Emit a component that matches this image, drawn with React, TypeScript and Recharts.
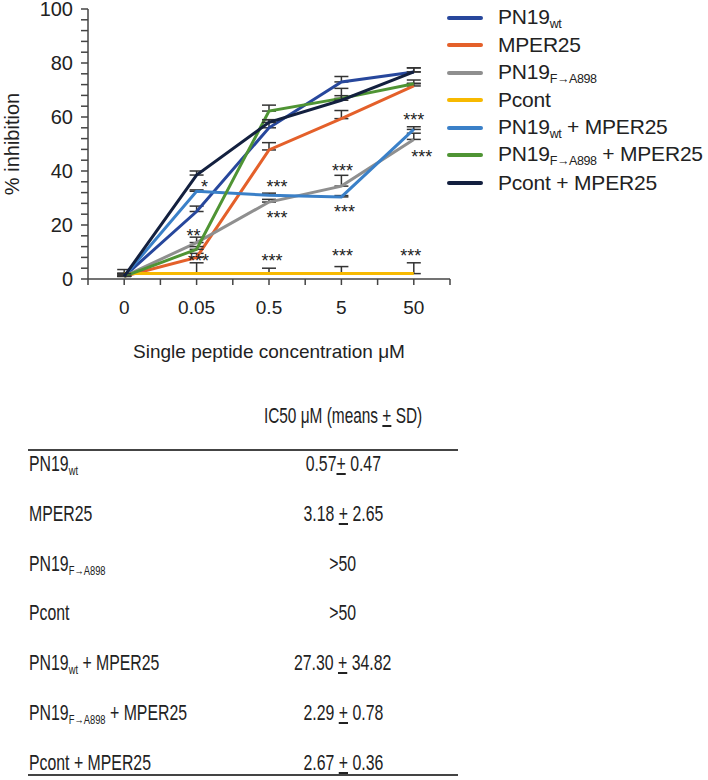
import React from 'react'
import { LineChart, Line, XAxis, YAxis, ErrorBar, LabelList } from 'recharts'

// x categories (single peptide concentration, µM)
const xLabels = ['0', '0.05', '0.5', '5', '50']

// % inhibition per series
const pn19wt = [1, 25, 56, 73, 76.7]
const mper25 = [1, 8, 47.8, 59.4, 71.5]
const pn19fa = [1, 13.5, 28.5, 34.4, 51.7]
const pcont = [2, 2, 2, 2, 2]
const pn19wtMper = [1, 32.5, 31, 30.4, 55.4]
const pn19faMper = [1, 11, 62.2, 66.9, 72.3]
const pcontMper = [1, 38.5, 58, 66.2, 76.7]

// upper SD
const pn19wtErr = [1, 2, 3, 2, 1.5]
const mper25Err = [1, 1.5, 2.7, 3, 1]
const pn19faErr = [1, 2, 1, 4, 2.3]
const pcontErr = [1.5, 4, 2, 2.6, 4]
const pn19wtMperErr = [1, 0.5, 0.8, 0.5, 1]
const pn19faMperErr = [1, 1, 2.2, 1, 1.4]
const pcontMperErr = [1, 1.5, 1, 4.4, 1.5]

// significance marks
const pn19faSig = ['', '**', '***', '***', '***']
const pcontSig = ['', '***', '***', '***', '***']
const pn19wtMperSig = ['', '*', '***', '***', '***']

// IC50 table
const tableNames = ['PN19wt', 'MPER25', 'PN19F→A898', 'Pcont', 'PN19wt + MPER25', 'PN19F→A898 + MPER25', 'Pcont + MPER25']
const ic50Mean = ['0.57', '3.18', '>50', '>50', '27.30', '2.29', '2.67']
const ic50Sd = ['0.47', '2.65', '', '', '34.82', '0.78', '0.36']

const series = [
  { key: 'pn19wt', values: pn19wt, err: pn19wtErr, color: '#27479c', main: 'PN19', sub: 'wt', rest: '' },
  { key: 'mper25', values: mper25, err: mper25Err, color: '#e4602a', main: 'MPER25', sub: '', rest: '' },
  { key: 'pn19fa', values: pn19fa, err: pn19faErr, color: '#8f8f8f', main: 'PN19', sub: 'F→A898', rest: '' },
  { key: 'pcont', values: pcont, err: pcontErr, color: '#f7b900', main: 'Pcont', sub: '', rest: '' },
  { key: 'pn19wtMper', values: pn19wtMper, err: pn19wtMperErr, color: '#3a80c8', main: 'PN19', sub: 'wt', rest: ' + MPER25' },
  { key: 'pn19faMper', values: pn19faMper, err: pn19faMperErr, color: '#4f9434', main: 'PN19', sub: 'F→A898', rest: ' + MPER25' },
  { key: 'pcontMper', values: pcontMper, err: pcontMperErr, color: '#13203f', main: 'Pcont', sub: '', rest: ' + MPER25' },
]

const sigMarks: Record<string, { labels: string[]; offsets: number[][] }> = {
  pn19fa: { labels: pn19faSig, offsets: [[0, 0], [-3, -11], [8, 12], [1, -19], [8, 14]] },
  pcont: { labels: pcontSig, offsets: [[0, 0], [2, -17], [3, -17], [1, -22], [-3, -22]] },
  pn19wtMper: { labels: pn19wtMperSig, offsets: [[0, 0], [8, -8], [8, -12], [3, 11], [0, -13]] },
}

const data = xLabels.map((label, i) => {
  const row: Record<string, unknown> = { idx: i, label }
  series.forEach((s) => {
    row[s.key] = s.values[i]
    row[s.key + 'Err'] = [0, s.err[i]]
  })
  row.pn19faSig = pn19faSig[i]
  row.pcontSig = pcontSig[i]
  row.pn19wtMperSig = pn19wtMperSig[i]
  return row
})

const font = "'Liberation Sans', Arial, sans-serif"

const xTicks = [-0.5, 0, 0.5, 1, 1.5, 2, 2.5, 3, 3.5, 4, 4.5]
const yTicks = Array.from({ length: 26 }, (_, i) => i * 4)

const makeSig = (offsets: number[][]) => (props: any) => {
  const { x, y, value, index } = props
  if (!value) return null
  const [dx, dy] = offsets[index] || [0, 0]
  return (
    <text x={x + dx} y={y + dy + 10} textAnchor="middle" fontSize={18} fontFamily={font} fill="#222">
      {value}
    </text>
  )
}

function Name({ text }: { text: string }) {
  const m = text.match(/^(PN19)(wt|F→A898)(.*)$/)
  if (!m) return <>{text}</>
  return (
    <>
      {m[1]}
      <sub style={{ fontSize: 13, verticalAlign: -4 }}>{m[2]}</sub>
      {m[3]}
    </>
  )
}

// condensed look of the table font
const squeeze = (origin: string, sx: number): React.CSSProperties => ({
  display: 'inline-block',
  transform: `scaleX(${sx})`,
  transformOrigin: origin,
})

export default function App() {
  return (
    <div style={{ position: 'absolute', left: 0, top: 0, width: 708, height: 780, background: '#fff', overflow: 'hidden' }}>
      <LineChart width={460} height={371} data={data} margin={{ top: 9, right: 10, bottom: 0, left: 0 }}>
        <XAxis
          dataKey="idx"
          type="number"
          domain={[-0.5, 4.5]}
          ticks={xTicks}
          interval={0}
          height={92}
          tickFormatter={(v: number) => (Number.isInteger(v) ? xLabels[v] : '')}
          tick={{ fontSize: 19, fill: '#222', fontFamily: font }}
          tickSize={6}
          tickMargin={16}
          axisLine={{ stroke: '#444', strokeWidth: 1.5 }}
          tickLine={{ stroke: '#444', strokeWidth: 1.5 }}
          label={{ value: 'Single peptide concentration \u03bcM', position: 'insideBottom', offset: 13, fontSize: 19, fill: '#222', fontFamily: font }}
        />
        <YAxis
          type="number"
          domain={[0, 100]}
          ticks={yTicks}
          interval={0}
          width={88}
          tickFormatter={(v: number) => (v % 20 === 0 ? String(v) : '')}
          tick={{ fontSize: 20, fill: '#222', fontFamily: font }}
          tickSize={7}
          tickMargin={8}
          axisLine={{ stroke: '#444', strokeWidth: 1.5 }}
          tickLine={{ stroke: '#444', strokeWidth: 1.5 }}
          label={{ value: '% inhibition', angle: -90, position: 'insideLeft', offset: 12, fontSize: 20, fill: '#222', fontFamily: font, style: { textAnchor: 'middle' } }}
        />
        {series.map((s) => (
          <Line key={s.key} dataKey={s.key} type="linear" stroke={s.color} strokeWidth={3} dot={false} isAnimationActive={false}>
            <ErrorBar dataKey={s.key + 'Err'} direction="y" width={7} stroke="#333" strokeWidth={1.5} />
            {sigMarks[s.key] && <LabelList dataKey={s.key + 'Sig'} content={makeSig(sigMarks[s.key].offsets)} />}
          </Line>
        ))}
      </LineChart>

      {/* legend */}
      <div style={{ position: 'absolute', left: 440, top: 4, fontFamily: font, color: '#222' }}>
        {series.map((s) => (
          <div key={s.key} style={{ height: 27.5, display: 'flex', alignItems: 'center' }}>
            <div style={{ width: 36, height: 4, borderRadius: 2, background: s.color, marginLeft: 7, marginRight: 15 }} />
            <span style={{ fontSize: 21, whiteSpace: 'nowrap', letterSpacing: -0.2 }}>
              {s.main}
              {s.sub && <sub style={{ fontSize: 12.5, verticalAlign: -4, letterSpacing: -0.4 }}>{s.sub}</sub>}
              {s.rest}
            </span>
          </div>
        ))}
      </div>

      {/* IC50 table */}
      <div style={{ position: 'absolute', left: 0, top: 0, width: 708, fontFamily: font, color: '#222' }}>
        <div style={{ position: 'absolute', left: 193, width: 300, top: 403, textAlign: 'center', fontSize: 22, whiteSpace: 'nowrap' }}>
          <span style={squeeze('center', 0.7)}>
            IC50 {'\u03bc'}M (means <u>+</u> SD)
          </span>
        </div>
        <div style={{ position: 'absolute', left: 28, top: 449, width: 430, height: 2, background: '#444' }} />
        {tableNames.map((name, i) => (
          <React.Fragment key={name}>
            <div style={{ position: 'absolute', left: 29, top: 451 + i * 49.8, fontSize: 22, whiteSpace: 'nowrap' }}>
              <span style={squeeze('left', 0.72)}>
                <Name text={name} />
              </span>
            </div>
            <div style={{ position: 'absolute', left: 193, width: 300, top: 451 + i * 49.8, textAlign: 'center', fontSize: 22, whiteSpace: 'nowrap' }}>
              <span style={squeeze('center', 0.72)}>
                {ic50Mean[i]}
                {ic50Sd[i] && (
                  <>
                    {i === 0 ? '' : ' '}
                    <u>+</u> {ic50Sd[i]}
                  </>
                )}
              </span>
            </div>
          </React.Fragment>
        ))}
        <div style={{ position: 'absolute', left: 28, top: 774, width: 430, height: 2, background: '#444' }} />
      </div>
    </div>
  )
}
